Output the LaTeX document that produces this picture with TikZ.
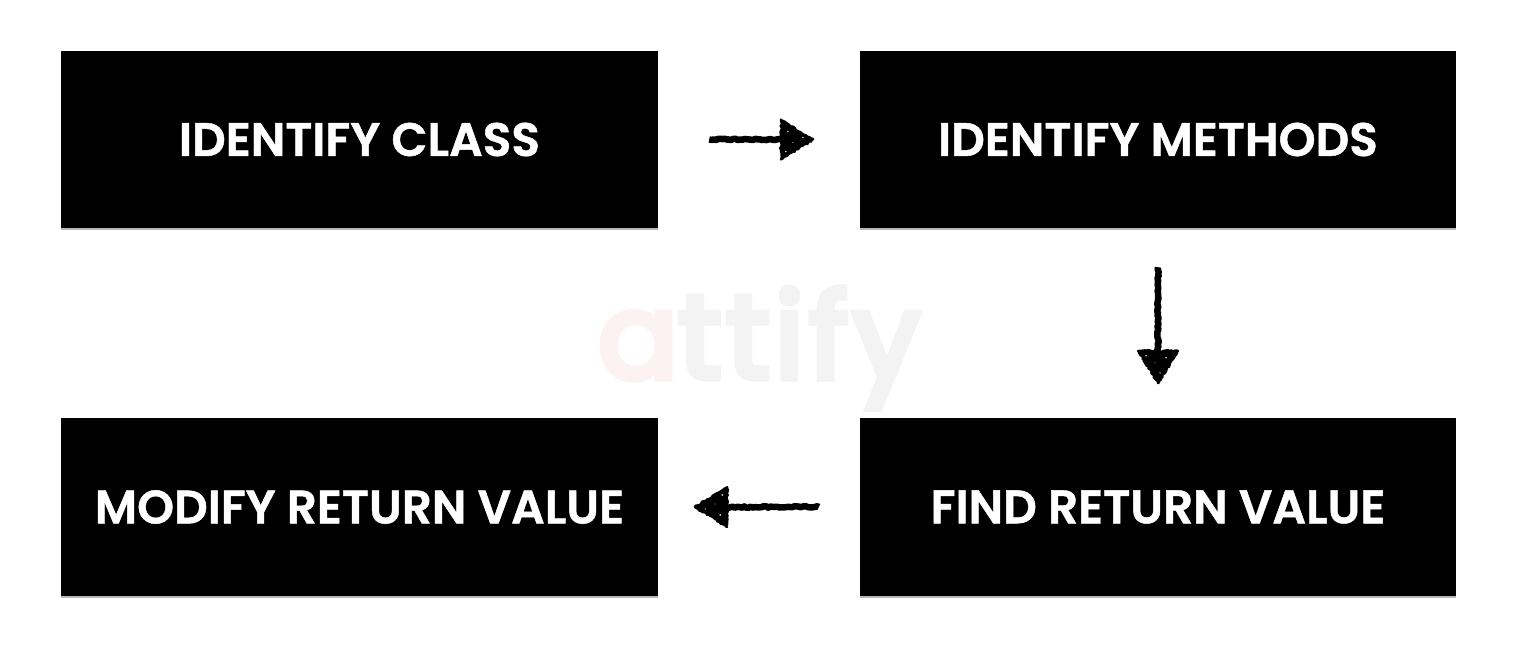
\documentclass[tikz,border=0pt]{standalone}
\usepackage{fontspec}
\setmainfont{Poppins}[BoldFont={Poppins SemiBold}]
\newfontfamily\wmfont{Poppins}[LetterSpace=4.5,RawFeature={embolden=6}]
\usetikzlibrary{calc,decorations.pathmorphing,shadows}
\definecolor{wmgray}{HTML}{F3F3F3}
\definecolor{wmpink}{HTML}{FCF2F2}
\tikzset{
  blackbox/.style={fill=black,draw=none,minimum width=597pt,minimum height=177pt,inner sep=0pt,text=white,
    font=\fontsize{47}{52}\selectfont\bfseries\addfontfeatures{RawFeature={embolden=1}},
    drop shadow={shadow xshift=0pt,shadow yshift=-1.5pt,fill=black!28,opacity=1}},
  widebox/.style={blackbox,minimum width=596pt},
  lowbox/.style={minimum height=178pt},
  rough/.style={draw=black,fill=black,line width=2pt,line join=round,decorate,decoration={random steps,segment length=1.6pt,amplitude=0.9pt}},
  shaft/.style={draw=black,line width=6.5pt,line join=round,decorate,decoration={random steps,segment length=2.2pt,amplitude=0.8pt}},
  wm/.style={font=\fontsize{118}{120}\selectfont\wmfont,inner sep=0pt,anchor=base},
  speck/.style={fill=white,draw=none}
}
\newcommand{\roughhead}[2]{%
  \begin{scope}[shift={(#1)},rotate=#2]
  \path[rough] (-1.5pt,0pt) -- (-34pt,-20pt) -- (-34pt,20pt) -- cycle;
  \fill[speck] (-27pt,8pt) circle (0.8pt) (-12pt,2pt) circle (0.7pt) (-29pt,-12pt) circle (0.8pt) (-22pt,-3pt) circle (0.5pt);
  \end{scope}}
\pgfmathsetseed{42}
\begin{document}
\begin{tikzpicture}[x=1pt,y=-1pt]
\useasboundingbox (0,0) rectangle (1526,658);
\node[wm,text=wmgray] (wmrest) at (799,378) {ttify};
\node[wm,text=wmpink,anchor=base east] (wma) at (wmrest.base west) {a};
\node[blackbox] (b1) at (359.5,139.5) {IDENTIFY CLASS};
\node[widebox] (b2) at (1158,139.5) {IDENTIFY METHODS};
\node[widebox,lowbox] (b3) at (1158,507) {FIND RETURN VALUE};
\node[blackbox,lowbox] (b4) at (359.5,507) {MODIFY RETURN VALUE};
\coordinate (a1s) at ($(b1.east)+(51pt,0pt)$);
\coordinate (a1e) at ($(b2.west)+(-45pt,0pt)$);
\coordinate (a2s) at ($(b2.south)+(0pt,-39pt)$);
\coordinate (a2e) at ($(b3.north)+(0pt,33pt)$);
\coordinate (a3s) at ($(b3.west)+(-41pt,0pt)$);
\coordinate (a3e) at ($(b4.east)+(35pt,0pt)$);
\draw[shaft] (a1s) -- ($(a1e)+(-28pt,0pt)$);
\roughhead{a1e}{0}
\draw[shaft] (a2s) -- ($(a2e)+(0pt,28pt)$);
\roughhead{a2e}{-90}
\draw[shaft] (a3s) -- ($(a3e)+(28pt,0pt)$);
\roughhead{a3e}{180}
\end{tikzpicture}
\end{document}
